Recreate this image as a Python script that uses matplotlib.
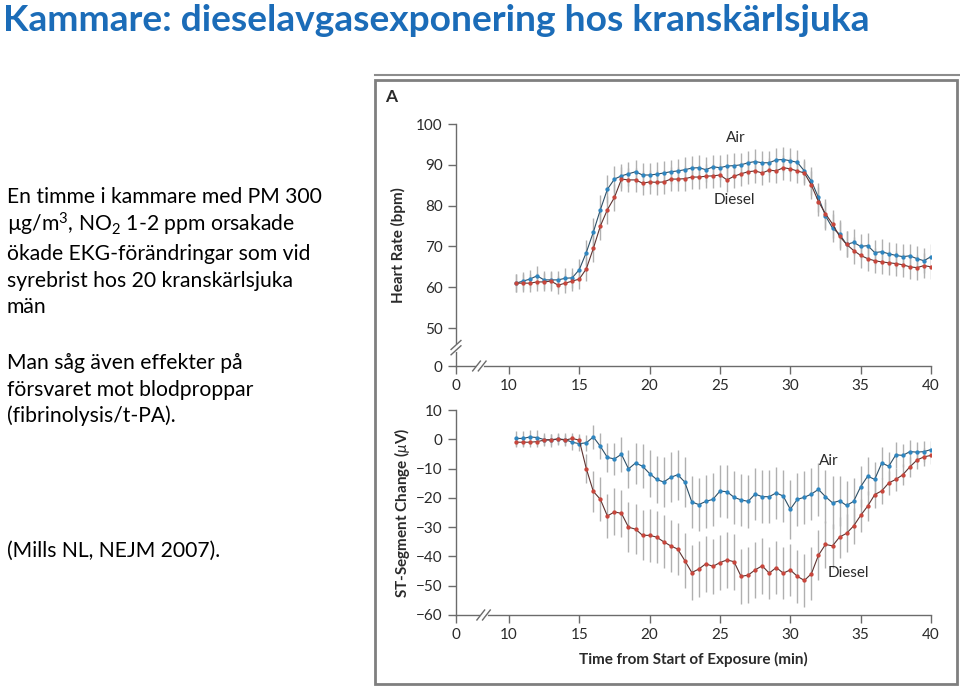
import matplotlib
matplotlib.use("Agg")
import matplotlib.pyplot as plt
from matplotlib.patches import Rectangle
from matplotlib.lines import Line2D
import numpy as np

plt.rcParams['font.family'] = ['Lato', 'DejaVu Sans']
plt.rcParams['mathtext.fontset'] = 'custom'
plt.rcParams['mathtext.rm'] = 'Lato'
plt.rcParams['mathtext.it'] = 'Lato:italic'
plt.rcParams['mathtext.bf'] = 'Lato:bold'

# time points (min), every half minute
minutes = [10.5, 11, 11.5, 12, 12.5, 13, 13.5, 14, 14.5, 15,
           15.5, 16, 16.5, 17, 17.5, 18, 18.5, 19, 19.5, 20,
           20.5, 21, 21.5, 22, 22.5, 23, 23.5, 24, 24.5, 25,
           25.5, 26, 26.5, 27, 27.5, 28, 28.5, 29, 29.5, 30,
           30.5, 31, 31.5, 32, 32.5, 33, 33.5, 34, 34.5, 35,
           35.5, 36, 36.5, 37, 37.5, 38, 38.5, 39, 39.5, 40]

# heart rate (bpm)
hr_air = [61.0, 61.5, 62.0, 62.8, 61.8, 61.8, 61.8, 62.2, 62.3, 64.3,
          68.5, 73.5, 79.0, 84.0, 86.5, 87.3, 87.8, 88.3, 87.5, 87.5,
          87.7, 88.0, 88.3, 88.5, 88.8, 89.2, 89.3, 88.8, 89.5, 89.3,
          89.7, 89.8, 90.0, 90.5, 90.8, 90.5, 90.5, 91.2, 91.3, 91.0,
          90.6, 88.5, 86.0, 82.0, 77.5, 74.5, 73.0, 70.5, 71.0, 70.0,
          70.2, 68.5, 68.7, 68.2, 67.8, 67.5, 67.7, 67.0, 66.5, 67.5]
hr_diesel = [61.0, 61.0, 61.0, 61.3, 61.3, 61.5, 60.5, 61.0, 61.5, 62.0,
             64.5, 69.5, 75.0, 79.0, 82.0, 86.5, 86.3, 86.3, 85.5, 85.8,
             85.7, 85.8, 86.5, 86.5, 86.6, 87.0, 87.0, 87.2, 87.3, 87.5,
             86.3, 87.2, 87.8, 88.3, 88.5, 88.0, 88.7, 88.5, 89.3, 89.0,
             88.5, 88.0, 85.0, 81.0, 78.0, 75.5, 72.5, 70.5, 69.0, 67.8,
             67.0, 66.5, 66.2, 66.0, 65.8, 65.5, 65.0, 64.8, 65.3, 65.0]
hr_air_err = [2.2, 2.2, 2.3, 2.5, 2.3, 2.3, 2.2, 2.4, 2.4, 2.6,
              3.0, 3.4, 3.5, 3.4, 3.2, 3.0, 3.0, 3.0, 3.0, 3.0,
              3.0, 3.0, 3.0, 3.0, 3.0, 3.0, 3.0, 3.0, 3.0, 3.0,
              3.0, 3.0, 3.0, 3.0, 3.0, 3.0, 3.0, 3.0, 3.0, 3.0,
              3.0, 3.0, 3.4, 3.5, 3.5, 3.5, 3.4, 3.2, 3.2, 3.0,
              3.0, 3.0, 3.0, 3.0, 3.0, 3.0, 3.0, 3.0, 3.0, 3.0]
hr_diesel_err = [2.2, 2.2, 2.2, 2.3, 2.3, 2.3, 2.2, 2.3, 2.3, 2.5,
                 3.0, 3.4, 3.5, 3.4, 3.2, 3.0, 3.0, 3.0, 3.0, 3.0,
                 3.0, 3.0, 3.0, 3.0, 3.0, 3.0, 3.0, 3.0, 3.0, 3.0,
                 3.0, 3.0, 3.0, 3.0, 3.0, 3.0, 3.0, 3.0, 3.0, 3.0,
                 3.0, 3.0, 3.4, 3.5, 3.5, 3.5, 3.4, 3.2, 3.2, 3.0,
                 3.0, 3.0, 3.0, 3.0, 3.0, 3.0, 3.0, 3.0, 3.0, 3.0]

# ST-segment change (uV)
st_air = [0.3, 0.3, 0.8, 0.6, -0.1, -0.3, 0.1, -0.1, -1.0, -1.5,
          -1.2, 0.8, -2.4, -6.2, -6.7, -5.1, -10.1, -8.1, -9.2, -11.7,
          -13.7, -14.6, -13.0, -12.1, -14.6, -21.4, -22.3, -21.2, -20.5, -17.7,
          -17.9, -19.8, -20.7, -21.2, -18.7, -19.6, -19.6, -18.3, -19.4, -23.9,
          -20.5, -19.8, -18.7, -17.1, -19.6, -21.7, -21.0, -22.6, -21.2, -16.2,
          -12.6, -13.7, -8.1, -9.2, -5.3, -5.5, -4.2, -4.4, -4.2, -3.5]
st_diesel = [-1.0, -1.0, -1.0, -0.8, -0.3, -0.1, 0.1, -0.3, 0.3, -0.3,
             -10.0, -17.8, -20.5, -26.2, -24.8, -25.3, -30.0, -30.7, -32.8, -32.8,
             -33.4, -35.0, -36.4, -37.5, -41.4, -45.5, -44.3, -42.5, -43.4, -42.1,
             -41.2, -41.8, -46.8, -46.4, -44.6, -43.2, -45.7, -43.8, -45.7, -44.6,
             -46.8, -48.2, -45.9, -39.6, -35.9, -36.4, -33.4, -32.1, -29.6, -26.0,
             -22.8, -18.9, -17.6, -14.9, -13.7, -12.1, -9.4, -7.1, -6.0, -5.5]
st_air_err = [2.5, 2.5, 2.5, 2.5, 2.2, 2.2, 2.2, 2.2, 2.5, 2.5,
              2.8, 4.0, 4.5, 5.0, 5.5, 6.0, 6.5, 7.0, 7.5, 8.0,
              8.0, 8.5, 8.5, 8.5, 8.5, 9.0, 9.0, 9.0, 9.0, 9.0,
              9.0, 9.0, 9.0, 9.0, 9.0, 9.0, 9.0, 9.0, 9.0, 10.0,
              9.0, 9.0, 9.0, 9.0, 9.0, 9.0, 8.5, 8.5, 8.0, 7.0,
              6.5, 6.0, 5.5, 5.0, 4.5, 4.0, 4.0, 3.5, 3.5, 3.0]
st_diesel_err = [1.8, 1.8, 1.8, 1.8, 1.8, 1.8, 1.8, 1.8, 2.0, 2.0,
                 5.0, 7.0, 7.5, 7.5, 8.0, 8.0, 8.5, 8.5, 8.5, 9.0,
                 9.0, 9.0, 9.0, 9.0, 9.5, 9.5, 9.5, 9.5, 9.5, 9.5,
                 9.5, 9.5, 9.5, 9.5, 9.5, 9.5, 9.0, 9.0, 9.0, 9.0,
                 9.0, 9.0, 9.0, 8.5, 8.0, 7.5, 7.0, 6.5, 6.0, 5.5,
                 5.0, 4.5, 4.5, 4.0, 4.0, 3.5, 3.5, 3.0, 3.0, 3.0]

x_ticks = [10, 15, 20, 25, 30, 35, 40]
hr_ticks = [50, 60, 70, 80, 90, 100]
st_ticks = [-60, -50, -40, -30, -20, -10, 0, 10]

# layout of the broken axes: where the "0" sits
X_ZERO = 6.24
HR_ZERO = 40.7

AIR_C = '#2f86c0'
DIESEL_C = '#c8463c'
AIR_LINE = '#2e4f66'
DIESEL_LINE = '#5e3330'
BAR_C = '#b0b0b0'
AXIS_C = '#6b6b6b'
TXT_C = '#2a2a2a'

W, H = 960, 688
fig = plt.figure(figsize=(9.6, 6.88), dpi=100)


def px_axes(left, top, right, bottom):
    return fig.add_axes([left / W, 1 - bottom / H, (right - left) / W, (bottom - top) / H])


def style_axes(ax):
    for s in ['top', 'right']:
        ax.spines[s].set_visible(False)
    for s in ['left', 'bottom']:
        ax.spines[s].set_color(AXIS_C)
        ax.spines[s].set_linewidth(1.0)
    ax.tick_params(colors=AXIS_C, labelcolor=TXT_C, labelsize=11, length=6, width=1, direction='out')
    ax.patch.set_alpha(0)


def slashes(ax, x, y, dx, dy, sep, horizontal):
    # little "//" marks that show the broken axis
    for k in (-1, 1):
        if horizontal:
            xs = [x + k * sep / 2 - dx / 2, x + k * sep / 2 + dx / 2]
            ys = [y - dy / 2, y + dy / 2]
        else:
            xs = [x - dx / 2, x + dx / 2]
            ys = [y + k * sep / 2 - dy / 2, y + k * sep / 2 + dy / 2]
        ax.plot(xs, ys, color=AXIS_C, lw=1, clip_on=False, zorder=6)
    if horizontal:
        ax.plot([x - sep / 2, x + sep / 2], [y, y], color='white', lw=2, clip_on=False, zorder=5)
    else:
        ax.plot([x, x], [y - sep / 2, y + sep / 2], color='white', lw=2, clip_on=False, zorder=5)


def draw_series(ax, y, err, mc, lc):
    ax.errorbar(minutes, y, yerr=err, fmt='none', ecolor=BAR_C, elinewidth=1.0, capsize=0, zorder=2)
    ax.plot(minutes, y, color=lc, lw=0.8, marker='o', ms=2.1, mfc=mc, mec=mc, zorder=3)


# heart rate panel
ax1 = px_axes(456, 124, 931, 366)
style_axes(ax1)
draw_series(ax1, hr_air, hr_air_err, AIR_C, AIR_LINE)
draw_series(ax1, hr_diesel, hr_diesel_err, DIESEL_C, DIESEL_LINE)
ax1.set_xlim(X_ZERO, 40)
ax1.set_ylim(HR_ZERO, 100)
ax1.set_xticks([X_ZERO] + x_ticks)
ax1.set_xticklabels(['0'] + [str(t) for t in x_ticks])
ax1.set_yticks([HR_ZERO] + hr_ticks)
ax1.set_yticklabels(['0'] + [str(t) for t in hr_ticks])
ax1.text(26.1, 96.6, 'Air', ha='center', va='center', fontsize=11, color=TXT_C)
ax1.text(26.0, 81.3, 'Diesel', ha='center', va='center', fontsize=11, color=TXT_C)
ax1.set_ylabel('Heart Rate (bpm)', fontsize=11, fontweight='bold', color=TXT_C, labelpad=7)
slashes(ax1, X_ZERO, 45.2, 0.7, 2.2, 1.3, horizontal=False)
slashes(ax1, 7.9, HR_ZERO, 0.55, 2.4, 0.4, horizontal=True)

# ST-segment panel
ax2 = px_axes(456, 410, 931, 615)
style_axes(ax2)
draw_series(ax2, st_air, st_air_err, AIR_C, AIR_LINE)
draw_series(ax2, st_diesel, st_diesel_err, DIESEL_C, DIESEL_LINE)
ax2.set_xlim(X_ZERO, 40)
ax2.set_ylim(-60, 10)
ax2.set_xticks([X_ZERO] + x_ticks)
ax2.set_xticklabels(['0'] + [str(t) for t in x_ticks])
ax2.set_yticks(st_ticks)
ax2.set_yticklabels(['\u221260', '\u221250', '\u221240', '\u221230', '\u221220', '\u221210', '0', '10'])
ax2.text(32.7, -7.5, 'Air', ha='center', va='center', fontsize=11, color=TXT_C)
ax2.text(34.1, -45.6, 'Diesel', ha='center', va='center', fontsize=11, color=TXT_C)
ax2.set_ylabel(r'ST-Segment Change ($\mu$V)', fontsize=11, fontweight='bold', color=TXT_C, labelpad=3)
ax2.set_xlabel('Time from Start of Exposure (min)', fontsize=11, fontweight='bold', color=TXT_C, labelpad=7)
slashes(ax2, 8.2, -60, 0.55, 3.4, 0.4, horizontal=True)

# frame around the figure panel
fig.add_artist(Rectangle((375 / W, 1 - 684 / H), (957 - 375) / W, (684 - 80) / H,
                         transform=fig.transFigure, fill=False, edgecolor='#7f7f7f', lw=2))
fig.add_artist(Line2D([375 / W, 959 / W], [1 - 75 / H, 1 - 75 / H], transform=fig.transFigure,
                      color='#8c8c8c', lw=1.5))
fig.text(385 / W, 1 - 97 / H, 'A', fontsize=12.5, fontweight='bold', color=TXT_C, ha='left', va='center')

# slide title and body text
fig.text(3 / W, 1 - 31 / H, 'Kammare: dieselavgasexponering hos kranskärlsjuka',
         fontsize=26.7, fontweight='bold', color='#1b6cb8', ha='left', va='baseline')

body = [
    (203, 'En timme i kammare med PM 300'),
    (232, r'µg/m$^3$, NO$_2$ 1-2 ppm orsakade'),
    (260, 'ökade EKG-förändringar som vid'),
    (287, 'syrebrist hos 20 kranskärlsjuka'),
    (313, 'män'),
    (369, 'Man såg även effekter på'),
    (396, 'försvaret mot blodproppar'),
    (422, '(fibrinolysis/t-PA).'),
    (557, '(Mills NL, NEJM 2007).'),
]
for ypx, line in body:
    fig.text(7 / W, 1 - ypx / H, line, fontsize=15.2, color='black', ha='left', va='baseline')

fig.savefig('out.png', dpi=100)
